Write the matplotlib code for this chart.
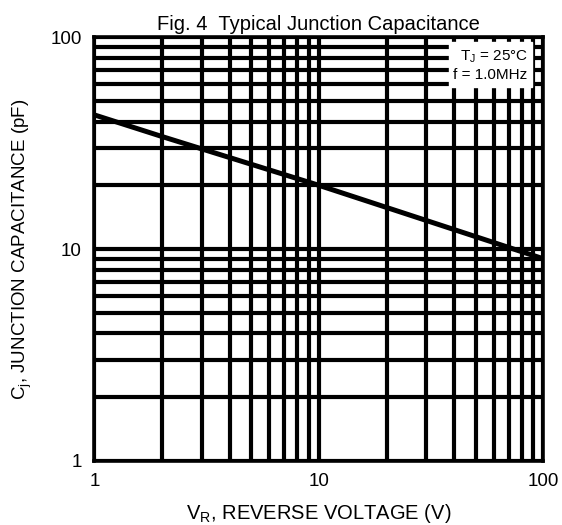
#!/usr/bin/env python3
"""
Fig. 4 Typical Junction Capacitance (log-log datasheet curve)
"""

import matplotlib
matplotlib.use('Agg')
import matplotlib.pyplot as plt
from matplotlib.ticker import LogLocator, FixedFormatter, FixedLocator, NullFormatter

# Data
reverse_voltage = [1, 2, 10, 100]
capacitance = [43, 34, 20, 9]

x_ticks = [1, 10, 100]
x_tick_labels = ['1', '10', '100']
y_ticks = [1, 10, 100]
y_tick_labels = ['1', '10', '100']

plt.rcParams['font.family'] = ['Liberation Sans', 'DejaVu Sans']

fig = plt.figure(figsize=(5.62, 5.25), dpi=100)
ax = fig.add_axes([0.168, 0.122, 0.799, 0.807])

ax.set_xscale('log')
ax.set_yscale('log')
ax.set_xlim(1, 100)
ax.set_ylim(1, 100)

# Heavy grid on every decade subdivision
ax.xaxis.set_major_locator(FixedLocator(x_ticks))
ax.yaxis.set_major_locator(FixedLocator(y_ticks))
ax.xaxis.set_major_formatter(FixedFormatter(x_tick_labels))
ax.yaxis.set_major_formatter(FixedFormatter(y_tick_labels))
ax.xaxis.set_minor_locator(LogLocator(base=10, subs=range(2, 10)))
ax.yaxis.set_minor_locator(LogLocator(base=10, subs=range(2, 10)))
ax.xaxis.set_minor_formatter(NullFormatter())
ax.yaxis.set_minor_formatter(NullFormatter())
ax.grid(True, which='both', color='black', linewidth=3.0)
ax.set_axisbelow(True)

ax.tick_params(which='both', length=0, labelsize=13.5, pad=9)

for spine in ax.spines.values():
    spine.set_linewidth(2.6)
    spine.set_color('black')

ax.plot(reverse_voltage, capacitance, color='black', linewidth=3.6,
        solid_capstyle='butt', zorder=3)

ax.text(0.965, 0.975, 'T$_\\mathregular{J}$ = 25\u00b0C\nf = 1.0MHz',
        transform=ax.transAxes, ha='right', va='top', fontsize=11,
        linespacing=1.35,
        bbox=dict(facecolor='white', edgecolor='white', pad=3), zorder=4)

ax.set_title('Fig. 4  Typical Junction Capacitance', fontsize=14.5, pad=5)
ax.set_xlabel('V$_\\mathregular{R}$, REVERSE VOLTAGE (V)', fontsize=14.5, labelpad=8)
ax.set_ylabel('C$_\\mathregular{j}$, JUNCTION CAPACITANCE (pF)', fontsize=13.5, labelpad=12)

plt.savefig('out.png', dpi=100)
